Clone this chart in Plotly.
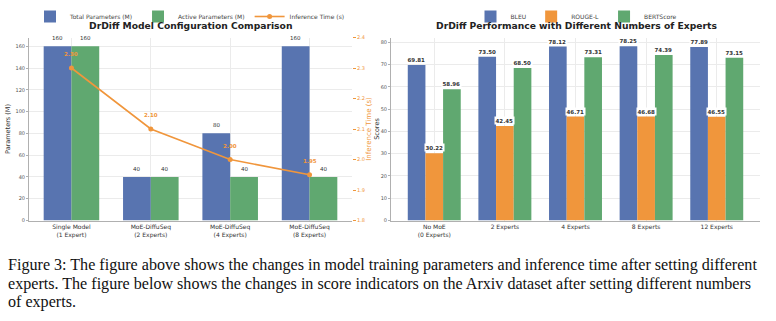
import plotly.graph_objects as go

# ---------------- data ----------------
config_labels = ["Single Model<br>(1 Expert)", "MoE-DiffuSeq<br>(2 Experts)",
                 "MoE-DiffuSeq<br>(4 Experts)", "MoE-DiffuSeq<br>(8 Experts)"]
total_params = [160, 40, 80, 160]
active_params = [160, 40, 40, 40]
inference_time = [2.30, 2.10, 2.00, 1.95]

expert_labels = ["No MoE<br>(0 Experts)", "2 Experts", "4 Experts", "8 Experts", "12 Experts"]
bleu = [69.81, 73.50, 78.12, 78.25, 77.89]
rouge_l = [30.22, 42.45, 46.71, 46.68, 46.55]
bertscore = [58.96, 68.50, 73.31, 74.39, 73.15]

caption_lines = [
    "Figure 3: The figure above shows the changes in model training parameters and inference time after setting different",
    "experts. The figure below shows the changes in score indicators on the Arxiv dataset after setting different numbers",
    "of experts.",
]

# ---------------- styles ----------------
BLUE = "#5874B0"
GREEN = "#60A870"
ORANGE = "#F0963C"
GRID = "#EBEBEB"
AXIS = "#B0B0B0"
TXT = "#333333"
FONT = "DejaVu Sans"
W, H = 776, 321

fig = go.Figure()

xi1 = list(range(len(config_labels)))
xi2 = list(range(len(expert_labels)))

# left chart bars
fig.add_trace(go.Bar(x=xi1, y=total_params, width=0.35, offset=-0.35, marker_color=BLUE,
                     marker_line_width=0, name="Total Parameters (M)", legend="legend",
                     xaxis="x", yaxis="y"))
fig.add_trace(go.Bar(x=xi1, y=active_params, width=0.35, offset=0.0, marker_color=GREEN,
                     marker_line_width=0, name="Active Parameters (M)", legend="legend",
                     xaxis="x", yaxis="y"))
fig.add_trace(go.Scatter(x=xi1, y=inference_time, mode="lines+markers",
                         line=dict(color=ORANGE, width=1.6), marker=dict(color=ORANGE, size=5),
                         name="Inference Time (s)", legend="legend", xaxis="x", yaxis="y2"))

# right chart bars
for vals, col, nm, off in [(bleu, BLUE, "BLEU", -0.375), (rouge_l, ORANGE, "ROUGE-L", -0.125),
                           (bertscore, GREEN, "BERTScore", 0.125)]:
    fig.add_trace(go.Bar(x=xi2, y=vals, width=0.25, offset=off, marker_color=col,
                         marker_line_width=0, name=nm, legend="legend2",
                         xaxis="x3", yaxis="y3"))

ann = []
# value labels left
for i, v in enumerate(total_params):
    ann.append(dict(x=i - 0.175, y=v, xref="x", yref="y", text=f"{v}", showarrow=False,
                    yanchor="bottom", yshift=3, font=dict(size=5.5, color=TXT, family=FONT)))
for i, v in enumerate(active_params):
    ann.append(dict(x=i + 0.175, y=v, xref="x", yref="y", text=f"{v}", showarrow=False,
                    yanchor="bottom", yshift=3, font=dict(size=5.5, color=TXT, family=FONT)))
for i, v in enumerate(inference_time):
    ann.append(dict(x=i, y=v, xref="x", yref="y2", text=f"<b>{v:.2f}</b>", showarrow=False,
                    yanchor="bottom", yshift=9, font=dict(size=5.5, color=ORANGE, family=FONT)))
# value labels right
for vals, off in [(bleu, -0.25), (rouge_l, 0.0), (bertscore, 0.25)]:
    for i, v in enumerate(vals):
        ann.append(dict(x=i + off, y=v, xref="x3", yref="y3", text=f"<b>{v:.2f}</b>",
                        showarrow=False, yanchor="bottom", yshift=1, bgcolor="white",
                        borderpad=0.5,
                        font=dict(size=5.5, color=TXT, family=FONT)))

# titles
ann.append(dict(x=190 / W, y=1 - 25.5 / H, xref="paper", yref="paper", xanchor="center",
                yanchor="middle",
                text="<b>DrDiff Model Configuration Comparison</b>", showarrow=False,
                font=dict(size=9.2, color="#222", family=FONT)))
ann.append(dict(x=576 / W, y=1 - 25.5 / H, xref="paper", yref="paper", xanchor="center",
                yanchor="middle",
                text="<b>DrDiff Performance with Different Numbers of Experts</b>", showarrow=False,
                font=dict(size=9.2, color="#222", family=FONT)))

# caption
for k, line in enumerate(caption_lines):
    ann.append(dict(x=6 / W, y=1 - (265 + 18.5 * k) / H, xref="paper", yref="paper",
                    text=line, showarrow=False, xanchor="left", yanchor="middle",
                    font=dict(size=16.1, color="#111", family="Liberation Serif")))

ydom = [1 - 220.5 / H, 1 - 37.5 / H]
tickfont = dict(size=5, color="#555", family=FONT)
common_x = dict(showgrid=True, gridcolor=GRID, gridwidth=0.6, showline=True, linecolor=AXIS,
                linewidth=1, ticks="", tickfont=dict(size=6, color=TXT, family=FONT), zeroline=False)
common_y = dict(showgrid=True, gridcolor=GRID, gridwidth=0.6, showline=True, linecolor=AXIS,
                linewidth=1, ticks="outside", ticklen=2, tickcolor=AXIS, tickfont=tickfont,
                zeroline=False)

fig.update_layout(
    width=W, height=H, margin=dict(l=0, r=0, t=0, b=0, autoexpand=False),
    paper_bgcolor="white", plot_bgcolor="white",
    font=dict(family=FONT),
    showlegend=True,
    xaxis=dict(domain=[29 / W, 352 / W], range=[-0.535, 3.535], tickvals=xi1, ticktext=config_labels,
               anchor="y", **common_x),
    yaxis=dict(domain=ydom, range=[0, 168], dtick=20, anchor="x",
               title=dict(text="Parameters (M)", font=dict(size=6.5, color=TXT), standoff=4),
               **common_y),
    yaxis2=dict(overlaying="y", side="right", anchor="x", range=[1.8, 2.4], dtick=0.1,
                showgrid=False, showline=False, zeroline=False, ticks="outside", ticklen=3,
                tickcolor=ORANGE, tickformat=".1f",
                tickfont=dict(size=5, color=ORANGE, family=FONT),
                title=dict(text="Inference Time (s)", font=dict(size=7, color=ORANGE), standoff=1)),
    xaxis3=dict(domain=[391 / W, 760 / W], range=[-0.6125, 4.6125], tickvals=xi2,
                ticktext=expert_labels, anchor="y3", **common_x),
    yaxis3=dict(domain=ydom, range=[0, 82.2], dtick=10, anchor="x3",
                title=dict(text="Scores", font=dict(size=6.5, color=TXT), standoff=0),
                **common_y),
    legend=dict(orientation="h", x=190 / W, y=1 - 16.5 / H, xanchor="center", yanchor="middle",
                font=dict(size=6, color="#444", family=FONT), bgcolor="rgba(0,0,0,0)",
                itemwidth=30, tracegroupgap=0),
    legend2=dict(orientation="h", x=576 / W, y=1 - 16.5 / H, xanchor="center", yanchor="middle",
                 font=dict(size=6, color="#444", family=FONT), bgcolor="rgba(0,0,0,0)",
                 itemwidth=30, tracegroupgap=0),
    annotations=ann,
)

fig.write_html("out.html")
